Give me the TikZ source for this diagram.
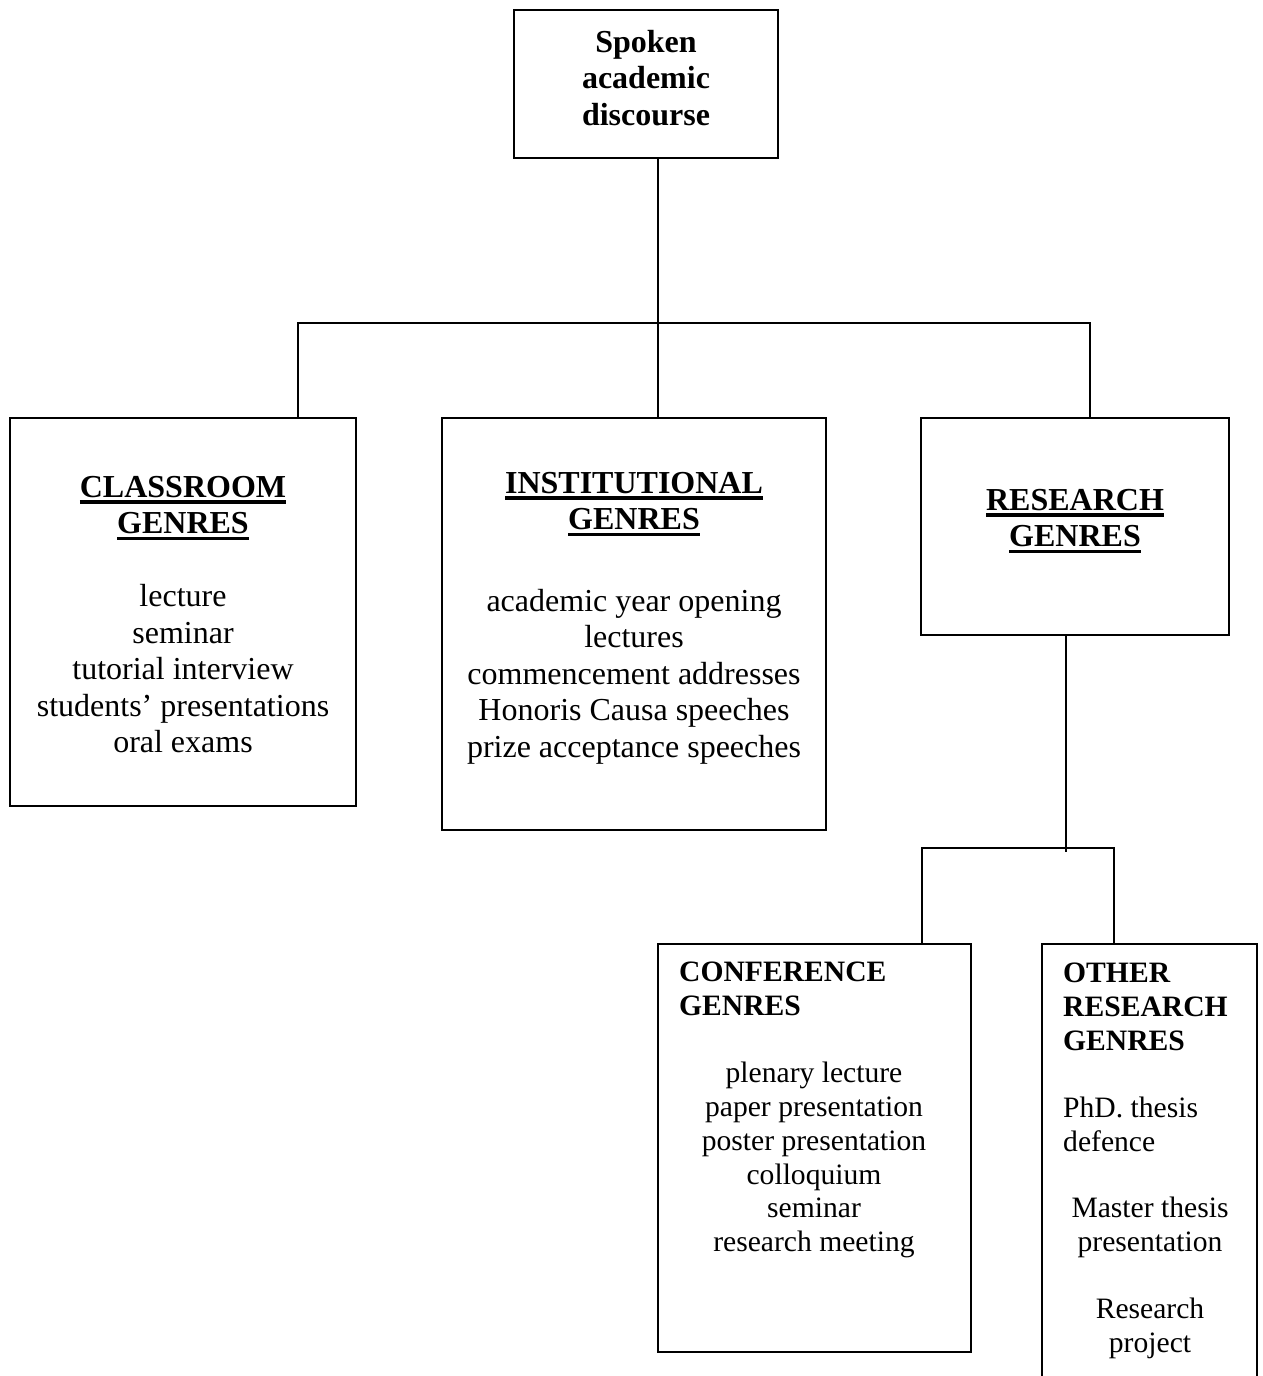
\documentclass[tikz,border=0pt]{standalone}
\usepackage{fontspec}
\setmainfont{Liberation Serif}
\newcommand{\bigtxt}{\fontsize{32}{36.5}\selectfont}
\newcommand{\smalltxt}{\fontsize{29.6}{33.8}\selectfont}
\newcommand{\hdul}[1]{\setbox0\hbox{#1}\rlap{\rule[-6.5pt]{\wd0}{3.4pt}}\box0}

\begin{document}
\begin{tikzpicture}[x=1pt,y=-1pt,
  box/.style={draw,line width=1.8pt,outer sep=0pt,inner sep=0pt},
  link/.style={line width=1.8pt},
  txt/.style={inner sep=0pt,align=center,font=\bigtxt},
  sub/.style={inner sep=0pt,font=\smalltxt}]
\useasboundingbox[fill=white] (0,0) rectangle (1263,1376);
\clip (0,0) rectangle (1263,1376);
% boxes
\node[box,minimum width=264pt,minimum height=148pt] (top) at (646,84) {};
\node[box,minimum width=346pt,minimum height=388pt] (class) at (183,612) {};
\node[box,minimum width=384pt,minimum height=412pt] (inst) at (634,624) {};
\node[box,minimum width=308pt,minimum height=217pt] (res) at (1075,526.5) {};
\node[box,minimum width=313pt,minimum height=408pt] (conf) at (814.5,1148) {};
\node[box,minimum width=215pt,minimum height=456pt] (other) at (1149.5,1172) {};
% texts
\node[txt,anchor=north] (toptxt) at (646,30) {\textbf{Spoken}\\\textbf{academic}\\\textbf{discourse}};
\node[txt,anchor=north] (classtxt) at (183,476) {\textbf{\hdul{CLASSROOM}}\\\textbf{\hdul{GENRES}}\\[36.5pt]
  lecture\\seminar\\tutorial interview\\students’ presentations\\oral exams};
\node[txt,anchor=north] (insttxt) at (634,472) {\textbf{\hdul{INSTITUTIONAL}}\\\textbf{\hdul{GENRES}}\\[45pt]
  academic year opening\\lectures\\commencement addresses\\Honoris Causa speeches\\prize acceptance speeches};
\node[txt,anchor=north] (restxt) at (1075,489) {\textbf{\hdul{RESEARCH}}\\\textbf{\hdul{GENRES}}};
\node[sub,align=left,anchor=north west] (confhd) at (679,962) {\textbf{CONFERENCE}\\\textbf{GENRES}};
\node[sub,align=center,anchor=north] (conftxt) at (814,1062) {plenary lecture\\paper presentation\\poster presentation\\colloquium\\seminar\\research meeting};
\node[sub,align=left,anchor=north west] (otherhd) at (1063,963) {\textbf{OTHER}\\\textbf{RESEARCH}\\\textbf{GENRES}};
\node[sub,align=left,anchor=north west] (phd) at (1063,1097) {PhD. thesis\\defence};
\node[sub,align=center,anchor=north] (master) at (1150,1197) {Master thesis\\presentation};
\node[sub,align=center,anchor=north] (project) at (1150,1298) {Research\\project};
% connectors
\coordinate (hub) at (658,323);
\coordinate (hubL) at (298,323);
\coordinate (hubR) at (1090,323);
\draw[link] (top.south -| hub) -- (inst.north -| hub);
\draw[link] (class.north -| hubL) |- (hubR) -- (res.north -| hubR);
\coordinate (fork) at (1066,848);
\coordinate (forkL) at (922,848);
\coordinate (forkR) at (1114,848);
\draw[link] (res.south -| fork) -- ([yshift=-4pt]fork);
\draw[link] (conf.north -| forkL) |- (forkR) -- (other.north -| forkR);
\end{tikzpicture}
\end{document}
